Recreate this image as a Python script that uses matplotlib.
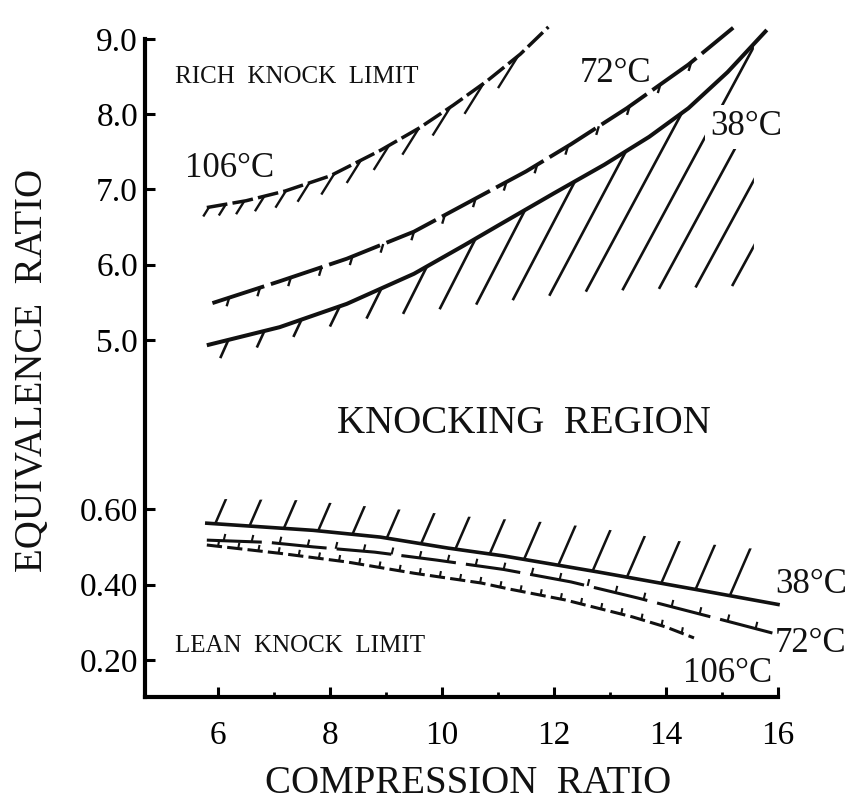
import numpy as np
import matplotlib
matplotlib.use("Agg")
import matplotlib.pyplot as plt
from matplotlib.collections import LineCollection
from matplotlib.patches import Polygon
from matplotlib.ticker import NullLocator

plt.rcParams['font.family'] = ['Liberation Serif', 'DejaVu Serif']

# ---------------- data: knock limits vs compression ratio ----------------
# rich knock limits (upper branch)
rich38_x = [5.8, 7.1, 8.3, 9.5, 10.4, 11.0, 12.0, 12.9, 13.7, 14.4, 15.1, 15.8]
rich38_y = [4.93, 5.17, 5.48, 5.88, 6.26, 6.52, 6.95, 7.33, 7.70, 8.08, 8.56, 9.12]

rich72_x = [5.9, 7.1, 8.3, 9.5, 10.5, 11.5, 12.3, 13.3, 14.4, 15.2]
rich72_y = [5.49, 5.78, 6.08, 6.44, 6.84, 7.24, 7.60, 8.08, 8.66, 9.15]

rich106_x = [5.8, 6.5, 7.2, 8.0, 8.9, 9.6, 10.2, 10.8, 11.4, 11.9]
rich106_y = [6.76, 6.85, 6.98, 7.18, 7.52, 7.82, 8.12, 8.44, 8.80, 9.16]

# lean knock limits (lower branch)
lean38_x = [5.8, 7.7, 8.9, 10.1, 11.1, 12.8, 14.6, 16.0]
lean38_y = [0.563, 0.544, 0.526, 0.497, 0.476, 0.433, 0.385, 0.347]

lean72_x = [5.8, 6.9, 7.7, 8.8, 9.9, 11.1, 12.3, 13.5, 14.8, 15.9]
lean72_y = [0.518, 0.512, 0.500, 0.486, 0.465, 0.440, 0.407, 0.364, 0.314, 0.271]

lean106_x = [5.8, 7.1, 8.3, 9.5, 10.7, 11.2, 12.2, 13.4, 14.0, 14.5]
lean106_y = [0.505, 0.483, 0.460, 0.430, 0.404, 0.388, 0.359, 0.314, 0.287, 0.258]

x_ticks = [6, 8, 10, 12, 14, 16]
x_minor = [7, 9, 11, 13, 15]
y_ticks = [0.2, 0.4, 0.6, 5.0, 6.0, 7.0, 8.0, 9.0]
y_labels = ['0.20', '0.40', '0.60', '5.0', '6.0', '7.0', '8.0', '9.0']

# ---------------- figure and broken equivalence-ratio axis ----------------
W, H, DPI = 848, 801, 100
fig = plt.figure(figsize=(W / DPI, H / DPI), dpi=DPI)
ax = fig.add_axes([145 / W, 104 / H, 633 / W, 658 / H])

# lean range is drawn at five times the scale of the rich range
Y_KNOTS = [0.0, 0.8, 4.0, 10.0]
T_KNOTS = [-0.25, 3.75, 4.0, 10.0]


def fwd(y):
    return np.interp(np.asarray(y, float), Y_KNOTS, T_KNOTS)


def inv(t):
    return np.interp(np.asarray(t, float), T_KNOTS, Y_KNOTS)


ax.set_yscale('function', functions=(fwd, inv))
ax.set_xlim(4.696, 16.0)
ax.set_ylim(0.101, 9.0)

for side in ('top', 'right'):
    ax.spines[side].set_visible(False)
for side in ('left', 'bottom'):
    ax.spines[side].set_linewidth(3.0)

ax.set_yticks(y_ticks)
ax.set_yticklabels(y_labels)
ax.yaxis.set_minor_locator(NullLocator())
ax.set_xticks(x_ticks)
ax.set_xticks(x_minor, minor=True)
ax.tick_params(axis='y', direction='in', length=7, width=2.2, pad=5, labelsize=24)
ax.tick_params(axis='x', which='major', direction='in', length=7, width=2.2,
               pad=17, labelsize=24)
ax.tick_params(axis='x', which='minor', direction='in', length=3.5, width=2.0)

INK = '#111111'

# ---------------- curves ----------------
ax.plot(rich38_x, rich38_y, color=INK, lw=2.9, solid_capstyle='butt', clip_on=False)
ax.plot(rich72_x, rich72_y, color=INK, lw=2.8, linestyle=(0, (14, 1.8)), clip_on=False)
ax.plot(rich106_x, rich106_y, color=INK, lw=2.5, linestyle=(0, (6, 1.5)), clip_on=False)
ax.plot(lean38_x, lean38_y, color=INK, lw=2.6, clip_on=False)
ax.plot(lean72_x, lean72_y, color=INK, lw=2.2, linestyle=(0, (18, 3.3)), clip_on=False)
ax.plot(lean106_x, lean106_y, color=INK, lw=2.2, linestyle=(0, (5, 1.7)), clip_on=False)


# ---------------- hatching helpers ----------------
def to_px(x, y):
    return ax.transData.transform(np.column_stack([np.ravel(x), np.ravel(y)]))


def to_data(p):
    return ax.transData.inverted().transform(p)


def strokes(x0, y0, length_px, direction):
    d = np.asarray(direction, float)
    d = d / np.hypot(*d)
    p0 = to_px(x0, y0)
    L = np.broadcast_to(np.asarray(length_px, float), (len(p0),))
    p1 = p0 + L[:, None] * d
    return np.stack([to_data(p0), to_data(p1)], axis=1)


def add_strokes(segs, lw=1.8, clip=None):
    lc = LineCollection(segs, colors=INK, linewidths=lw, capstyle='butt', zorder=2)
    ax.add_collection(lc)
    if clip is not None:
        clip.set_transform(ax.transData)
        lc.set_clip_path(clip)
    else:
        lc.set_clip_on(False)


# knocking region under the 38 C rich limit: long strokes from a floor up to the curve
FLOOR_X = [6.0, 7.9, 8.5, 10.5, 12.5, 16.0]
FLOOR_Y = [4.75, 5.16, 5.27, 5.46, 5.64, 5.74]
hx = np.linspace(6.04, 15.18, 15)
segs = strokes(hx, np.interp(hx, FLOOR_X, FLOOR_Y), 450, (1, 2.35))
gx = np.linspace(5.8, 15.57, 200)
top = np.column_stack([gx, np.interp(gx, rich38_x, rich38_y)])
bot = np.column_stack([gx[::-1], np.interp(gx[::-1], FLOOR_X, FLOOR_Y) - 0.05])
add_strokes(segs, lw=1.9, clip=Polygon(np.vstack([top, bot]), closed=True))

# short ticks hanging from the 72 C rich limit
tx = np.arange(6.2, 15.0, 0.55)
add_strokes(strokes(tx, np.interp(tx, rich72_x, rich72_y), 9, (-0.3, -1)), lw=1.7)

# 106 C rich limit: ticks growing longer and sparser to the right
t106 = 5.84 + np.concatenate([[0], np.cumsum(np.linspace(0.30, 0.62, 12))])
len106 = np.linspace(11, 38, len(t106))
add_strokes(strokes(t106, np.interp(t106, rich106_x, rich106_y), len106, (-1, -1.6)), lw=1.7)

# strokes above the 38 C lean limit, up to a ceiling
CEIL_X = [5.7, 7.5, 9.0, 10.5, 12.0, 13.0, 14.0, 15.5, 16.2]
CEIL_Y = [0.628, 0.624, 0.603, 0.580, 0.564, 0.545, 0.519, 0.496, 0.49]
lx = np.linspace(5.95, 15.14, 16)
segs = strokes(lx, np.interp(lx, lean38_x, lean38_y), 200, (1, 2.3))
gx = np.linspace(5.8, 16.0, 200)
top = np.column_stack([gx, np.interp(gx, CEIL_X, CEIL_Y)])
bot = np.column_stack([gx[::-1], np.interp(gx[::-1], lean38_x, lean38_y) - 0.01])
add_strokes(segs, lw=1.8, clip=Polygon(np.vstack([top, bot]), closed=True))

# small upright ticks on the 72 C and 106 C lean limits
kx = np.arange(6.1, 15.8, 0.5)
add_strokes(strokes(kx, np.interp(kx, lean72_x, lean72_y), 7, (0.25, 1)), lw=1.5)
kx = np.arange(6.0, 14.4, 0.36)
add_strokes(strokes(kx, np.interp(kx, lean106_x, lean106_y), 6, (0.2, 1)), lw=1.5)

# ---------------- text ----------------
lab = dict(fontsize=25, ha='left', va='baseline', color=INK, clip_on=False, zorder=5)
ax.text(5.41, 7.166, '106°C', **lab)
ax.text(12.46, 8.43, '72°C', **lab)
ax.text(14.79, 7.72, '38°C',
        bbox=dict(facecolor='white', edgecolor='none', pad=4), **lab)
ax.text(15.95, 0.377, '38°C', **lab)
ax.text(15.95, 0.221, '72°C', **lab)
ax.text(14.30, 0.142, '106°C', **lab)

small = dict(fontsize=18, ha='left', va='baseline', color=INK)
ax.text(5.23, 8.415, 'RICH  KNOCK  LIMIT', **small)
ax.text(5.23, 0.221, 'LEAN  KNOCK  LIMIT', **small)

fig.text(524 / W, 1 - 433 / H, 'KNOCKING  REGION', fontsize=28,
         ha='center', va='baseline', color=INK)
fig.text(468 / W, 1 - 793 / H, 'COMPRESSION  RATIO', fontsize=28,
         ha='center', va='baseline', color=INK)
fig.text(33 / W, 1 - 370 / H, 'EQUIVALENCE  RATIO', fontsize=28, rotation=90,
         ha='center', va='center', color=INK)

fig.savefig('out.png', dpi=DPI, facecolor='white')
